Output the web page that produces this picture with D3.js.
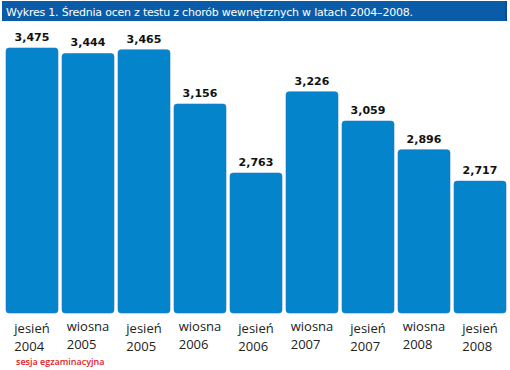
<!DOCTYPE html>
<html>
<head>
<meta charset="utf-8">
<script src="https://cdn.jsdelivr.net/npm/d3@7"></script>
<style>
    body { margin: 0; background: #fff; }
    svg { display: block; }
</style>
</head>
<body>
<div id="chart"></div>
<script>
// data
const seasons = ["jesień", "wiosna", "jesień", "wiosna", "jesień", "wiosna", "jesień", "wiosna", "jesień"];
const years = ["2004", "2005", "2005", "2006", "2006", "2007", "2007", "2008", "2008"];
const scores = [3.475, 3.444, 3.465, 3.156, 2.763, 3.226, 3.059, 2.896, 2.717];
const titleText = "Wykres 1. Średnia ocen z testu z chorób wewnętrznych w latach 2004–2008.";
const noteText = "sesja egzaminacyjna";

const width = 510, height = 370;

const svg = d3.select("#chart")
    .append("svg")
    .attr("width", width)
    .attr("height", height);

// title bar
svg.append("rect")
    .attr("x", 2)
    .attr("y", 1)
    .attr("width", 505)
    .attr("height", 20)
    .attr("fill", "#0b5ca8");
svg.append("rect")
    .attr("x", 505)
    .attr("y", 1)
    .attr("width", 2)
    .attr("height", 20)
    .attr("fill", "#084d90");

svg.append("text")
    .attr("x", 6)
    .attr("y", 15.5)
    .attr("fill", "#fff")
    .style("font-family", "DejaVu Sans, Verdana, sans-serif")
    .style("font-size", "11px")
    .attr("textLength", 407)
    .attr("lengthAdjust", "spacing")
    .text(titleText);

const keys = d3.range(scores.length);

const x = d3.scaleBand()
    .domain(keys)
    .range([4, 508])
    .paddingInner(4 / 56)
    .paddingOuter(2 / 56);

const y = d3.scaleLinear()
    .domain([1.966, 3.475])
    .range([313, 48]);

// bars
svg.selectAll(".bar")
    .data(scores)
    .enter().append("rect")
    .attr("class", "bar")
    .attr("x", (d, i) => x(i))
    .attr("y", d => y(d))
    .attr("width", x.bandwidth())
    .attr("height", d => y.range()[0] - y(d))
    .attr("rx", 3)
    .attr("fill", "#0484cb")
    .attr("stroke", "#1f78c9")
    .attr("stroke-width", 0.6);

// value labels
const fmt = d3.format(",.3f");
svg.selectAll(".bar-value")
    .data(scores)
    .enter().append("text")
    .attr("class", "bar-value")
    .attr("x", (d, i) => x(i) + x.bandwidth() / 2)
    .attr("y", d => y(d) - 7)
    .attr("text-anchor", "middle")
    .attr("fill", "#111")
    .style("font-family", "DejaVu Sans, Verdana, sans-serif")
    .style("font-weight", "bold")
    .style("font-size", "11px")
    .text(d => fmt(d).replace(".", ","));

// category labels, two left aligned lines centred under each bar
const cats = svg.selectAll(".cat")
    .data(keys)
    .enter().append("text")
    .attr("class", "cat")
    .attr("fill", "#222")
    .style("font-family", "Open Sans, sans-serif")
    .style("font-size", "13px");

cats.append("tspan")
    .attr("class", "l1")
    .text(i => seasons[i]);
cats.append("tspan")
    .attr("class", "l2")
    .text(i => years[i]);

cats.each(function(i) {
    let t = d3.select(this);
    let w = t.select(".l1").node().getComputedTextLength();
    let x0 = x(i) + x.bandwidth() / 2 - w / 2;
    let shift = seasons[i] === "wiosna" ? -2 : 0;
    t.select(".l1").attr("x", x0).attr("y", 333 + shift);
    t.select(".l2").attr("x", x0).attr("y", 351 + shift);
});

svg.append("text")
    .attr("x", 16)
    .attr("y", 365)
    .attr("fill", "#e3202b")
    .style("font-family", "Open Sans, sans-serif")
    .style("font-size", "9px")
    .style("font-weight", "600")
    .text(noteText);
</script>
</body>
</html>
